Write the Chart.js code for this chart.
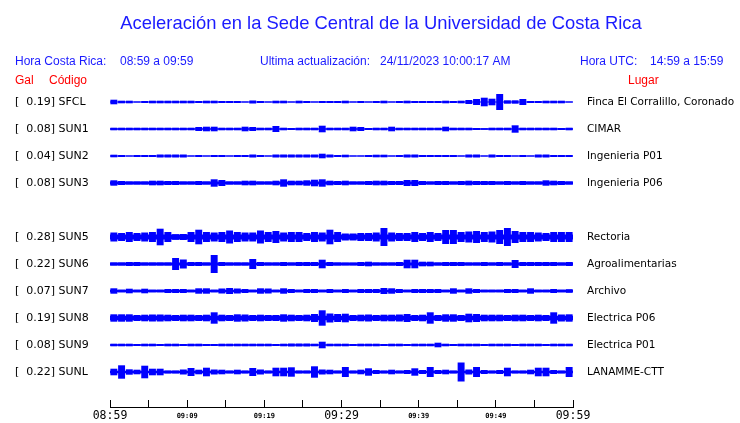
<!DOCTYPE html>
<html lang="es">
<head>
<meta charset="UTF-8">
<title>Aceleración Sede Central</title>
<script src="https://cdn.jsdelivr.net/npm/chart.js@4.4.0/dist/chart.umd.min.js"></script>
<style>
  body { margin: 0; background: #fff; }
</style>
</head>
<body>
<canvas id="myChart" width="740" height="423"></canvas>
<script>
// station rows (blank row = SUN4, not shown)
const codes = ['SFCL', 'SUN1', 'SUN2', 'SUN3', '', 'SUN5', 'SUN6', 'SUN7', 'SUN8', 'SUN9', 'SUNL'];
const places = ['Finca El Corralillo, Coronado', 'CIMAR', 'Ingenieria P01', 'Ingenieria P06', '',
  'Rectoria', 'Agroalimentarias', 'Archivo', 'Electrica P06', 'Electrica P01', 'LANAMME-CTT'];
const gal = [0.19, 0.08, 0.04, 0.08, null, 0.28, 0.22, 0.07, 0.19, 0.08, 0.22];

// minutes after 08:59 where the axis has ticks, and labels every 10 min
const tickMinutes = [0, 5, 10, 15, 20, 25, 30, 35, 40, 45, 50, 55, 60];
const timeLabels = ['08:59', '09:09', '09:19', '09:29', '09:39', '09:49', '09:59'];

// background noise level of each trace (half width, trace units)
const floors = [0.5, 0.7, 0.5, 1.5, null, 2.6, 1.5, 1.3, 2.3, 0.8, 1.3];

// peak amplitude per minute (half width, trace units)
const sfcl = [2.3, 1.3, 1.3, 0.5, 1, 1.3, 1.3, 1.3, 1.3, 1.3, 1.3, 1, 1.3, 1.3, 1, 1, 1, 0.5, 1.5, 1,
  0.5, 1.3, 1.3, 0.5, 1.3, 1, 0.5, 1, 1, 1, 1.3, 0.5, 1, 0.5, 1, 1.3, 0.5, 1, 1.3, 1,
  1, 1, 1, 1.3, 1, 1.3, 2, 3, 4.3, 3.3, 8, 1.7, 1.7, 3, 1, 1, 1.3, 1.3, 1.3, 0.5];
const sun1 = [1.3, 1.3, 1.3, 1.3, 1.3, 1.3, 1.3, 1.3, 1.3, 1.3, 1.3, 2, 2.3, 2.3, 1.3, 1.3, 1.3, 2.3, 2, 1.3,
  1.3, 3, 1.3, 1, 1.3, 1.3, 1.3, 3.3, 1.3, 1.3, 1.3, 2.3, 2, 1, 1.3, 1.3, 2.3, 1.3, 1.3, 1.3,
  1.3, 1.3, 1.3, 2.3, 1.3, 1.3, 1.3, 1, 0.7, 1.3, 1.3, 1.3, 3.7, 1.3, 1.3, 1.3, 1.3, 1.3, 1, 1.3];
const sun2 = [1.3, 1, 0.5, 1, 1, 1, 1.5, 1.5, 1.5, 1.5, 0.5, 1, 0.5, 1, 1, 0.5, 1, 1, 1.5, 1,
  0.5, 1.5, 1.5, 1.5, 1.5, 1.5, 1.5, 2.3, 1.5, 1, 1.3, 0.5, 0.5, 1, 1.3, 1.3, 0.5, 1, 1.5, 1.5,
  1, 1, 1, 1, 1, 0.5, 1.5, 1.5, 0.5, 1.5, 1, 1, 0.5, 1, 0.5, 1.5, 1.5, 1, 1, 1];
const sun3 = [2.7, 2, 1.5, 1.5, 1.5, 2.3, 2.3, 2, 2, 1.5, 1.5, 2, 1.5, 3.7, 3, 1.5, 1.5, 2.3, 2.3, 1.5,
  1.5, 2.3, 3.7, 2.3, 2.3, 2.7, 3.3, 3.7, 2.3, 2, 2.3, 1.5, 1.5, 2, 2.3, 2.3, 2, 2, 3, 3,
  2, 1.5, 2, 2, 1.5, 2, 2.3, 2, 2, 2, 1.5, 2, 1.5, 2, 1.5, 1.5, 2.7, 2.3, 2, 1.5];
const sun5 = [4.5, 4, 5, 4, 4.5, 5, 8.3, 5, 2.8, 3, 5, 7.3, 5, 4.5, 5, 6.5, 5, 4.5, 4.5, 6.5,
  5, 6, 4.5, 5, 5, 4, 5, 4.5, 7.3, 5, 3.5, 3.5, 4, 4, 4.5, 9, 4.5, 4, 4, 5,
  4, 5, 4, 7, 7, 5, 5.5, 6, 5, 5.5, 7, 9, 6, 5, 5, 4.5, 4, 5, 5, 5];
const sun6 = [1.5, 1.5, 2, 2, 1.5, 1.5, 1.5, 1.5, 6, 4.5, 2, 2, 1.5, 9, 2, 1.5, 1.5, 1.5, 5, 2,
  1.5, 1.5, 2, 1.5, 2, 2, 2, 4.3, 2, 1.5, 1.3, 1.3, 2, 2.3, 1.5, 1.5, 1.5, 2, 4.3, 4.3,
  2.3, 2.3, 1.5, 2, 2, 2, 1.5, 1.5, 2, 1.5, 2, 1.5, 4, 2, 2, 2, 2, 2, 1.5, 2];
const sun7 = [2.7, 1.3, 2.3, 1.3, 2.3, 1.3, 1.3, 2, 2, 2, 1.3, 2.7, 2.7, 1.3, 2.5, 3, 2.5, 2, 1.3, 2.7,
  2.5, 1.3, 2.7, 2, 1.3, 2, 2, 1.3, 2, 1.3, 2, 1.3, 2, 2, 2, 3, 2.7, 2, 1.3, 2,
  2, 2, 2, 1.3, 2.7, 1.3, 2.7, 2, 1.3, 1.3, 1.3, 2, 2, 1.3, 2.7, 1.3, 1.3, 2, 1.3, 1.8];
const sun8 = [3.7, 3.7, 3.7, 3, 3.3, 3.5, 3.5, 3.3, 3, 3.3, 3.3, 3, 3.3, 5.7, 3.3, 3, 3.7, 3.5, 3, 3.3,
  3, 3, 3.7, 3.3, 3, 3.3, 4, 7.7, 4.5, 4, 4.3, 3, 3.3, 3.5, 3, 3.3, 3.3, 3.5, 4, 3,
  3.3, 5.7, 3, 3.7, 3.7, 3, 4.3, 4, 3.3, 3.3, 3.3, 3, 3.3, 3.3, 3, 3.3, 3, 5.7, 3.5, 3.7];
const sun9 = [1.3, 1.3, 1.3, 1, 1.3, 1.3, 1, 1.3, 1.3, 1, 1.3, 1.3, 1, 1, 1.3, 1.3, 1.3, 1.3, 1.3, 1.3,
  1.3, 1, 1.3, 1.5, 1.5, 1.5, 1.3, 3.3, 1.3, 1.3, 1.3, 1, 1.3, 1.3, 1.3, 1, 1.3, 1.3, 1, 1.3,
  1.3, 1.3, 2.3, 1.3, 1, 1.3, 1.3, 1.3, 1, 1.3, 1.3, 1.3, 1, 1.3, 1.3, 1.3, 1, 1.3, 1.3, 1.3];
const sunl = [3.3, 6.7, 2.7, 2.3, 6.3, 3.3, 3.3, 1.5, 1.5, 2.5, 4, 2.3, 4.3, 2.5, 2.3, 1.5, 2.3, 1.5, 4, 2.5,
  1.5, 4.3, 4.3, 4.7, 1.5, 1.5, 5.7, 2.5, 2.3, 1.5, 5, 1.5, 2.3, 3.7, 2, 1.5, 2.3, 1.5, 2, 3.7,
  2, 5, 2, 2.3, 1.5, 9.5, 2.5, 5, 2, 1.5, 2, 4.3, 1.5, 1.5, 2.3, 4.3, 4.3, 2, 1.5, 5];
const peaks = [sfcl, sun1, sun2, sun3, null, sun5, sun6, sun7, sun8, sun9, sunl];

const ROW = 27;            // trace units between two rows
const BLUE = '#0000ff';
const TEXT_BLUE = '#1a1aff';

const datasets = [];
codes.forEach((code, i) => {
  if (!code) return;
  const c = i * ROW;
  const f = floors[i];
  datasets.push({
    type: 'line', data: [{ x: 0, y: c - f }, { x: 60, y: c - f }],
    borderWidth: 0, pointRadius: 0, fill: false
  });
  datasets.push({
    type: 'line', data: [{ x: 0, y: c + f }, { x: 60, y: c + f }],
    borderWidth: 0, pointRadius: 0, fill: '-1', backgroundColor: BLUE
  });
  datasets.push({
    type: 'bar', grouped: false,
    data: peaks[i].map((a, m) => ({ x: m + 0.5, y: [c - a, c + a] })),
    backgroundColor: BLUE, barPercentage: 0.9, categoryPercentage: 1
  });
});

const rowTicks = s => {
  s.ticks = codes.map((c, i) => c ? { value: i * ROW } : null).filter(Boolean);
};

const header = {
  id: 'header',
  afterDraw(chart) {
    const ctx = chart.ctx;
    ctx.save();
    ctx.textBaseline = 'alphabetic';
    ctx.fillStyle = TEXT_BLUE;
    ctx.textAlign = 'center';
    ctx.font = '18.4px "Liberation Sans", Arial, sans-serif';
    ctx.fillText('Aceleración en la Sede Central de la Universidad de Costa Rica', 381, 29);
    ctx.textAlign = 'left';
    ctx.font = '12px "Liberation Sans", Arial, sans-serif';
    ctx.fillText('Hora Costa Rica:', 15, 65);
    ctx.fillText('08:59 a 09:59', 120, 65);
    ctx.fillText('Ultima actualización:', 260, 65);
    ctx.fillText('24/11/2023 10:00:17 AM', 380, 65);
    ctx.fillText('Hora UTC:', 580, 65);
    ctx.fillText('14:59 a 15:59', 650, 65);
    ctx.fillStyle = '#ff0000';
    ctx.fillText('Gal', 15, 84);
    ctx.fillText('Código', 49, 84);
    ctx.fillText('Lugar', 628, 84);
    // axis line under the tick marks
    const x = chart.scales.x;
    const yLine = Math.round(x.top + x.options.grid.tickLength) - 0.5;
    ctx.strokeStyle = '#000';
    ctx.lineWidth = 1;
    ctx.beginPath();
    ctx.moveTo(x.left, yLine);
    ctx.lineTo(x.right + 1, yLine);
    ctx.stroke();
    ctx.restore();
  }
};

new Chart(document.getElementById('myChart'), {
  type: 'bar',
  data: { datasets },
  options: {
    responsive: false,
    animation: false,
    layout: { padding: { top: 90, left: 15, right: 0, bottom: 0 } },
    plugins: { legend: { display: false }, tooltip: { enabled: false } },
    scales: {
      x: {
        type: 'linear', min: 0, max: 60, offset: false,
        afterBuildTicks: s => { s.ticks = tickMinutes.map(v => ({ value: v })); },
        afterFit: s => { s.height = 23; },
        grid: { display: true, drawOnChartArea: false, drawTicks: true, tickLength: 8, color: '#000', offset: false },
        border: { display: false },
        ticks: {
          autoSkip: false, maxRotation: 0, padding: 2, color: '#000',
          font: c => (c.tick && c.tick.value % 30 === 0)
            ? { family: '"DejaVu Sans Mono", monospace', size: 11.5, lineHeight: '13px' }
            : { family: '"DejaVu Sans Mono", monospace', size: 7, weight: 'bold', lineHeight: '13px' },
          callback: v => v % 10 === 0 ? timeLabels[v / 10] : ''
        }
      },
      y: {
        type: 'linear', position: 'left', reverse: true, min: -12, max: 298,
        afterBuildTicks: rowTicks,
        afterFit: s => { s.width = 95; },
        grid: { display: false, drawTicks: false },
        border: { display: false },
        ticks: {
          crossAlign: 'far', padding: 0, color: '#000',
          font: { family: '"DejaVu Sans", sans-serif', size: 11 },
          callback: v => {
            const i = Math.round(v / ROW);
            return '[  ' + gal[i].toFixed(2) + '] ' + codes[i];
          }
        }
      },
      y2: {
        type: 'linear', position: 'right', reverse: true, min: -12, max: 298,
        afterBuildTicks: rowTicks,
        afterFit: s => { s.width = 167; },
        grid: { display: false, drawTicks: false },
        border: { display: false },
        ticks: {
          crossAlign: 'near', padding: 14, color: '#000',
          font: { family: '"DejaVu Sans", sans-serif', size: 10.5 },
          callback: v => places[Math.round(v / ROW)]
        }
      }
    }
  },
  plugins: [header]
});
</script>
</body>
</html>
